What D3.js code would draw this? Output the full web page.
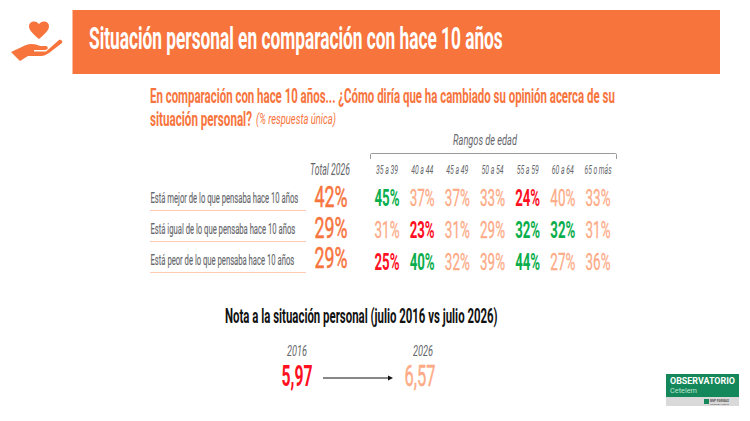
<!DOCTYPE html>
<html>
<head>
<meta charset="utf-8">
<script src="https://cdn.jsdelivr.net/npm/d3@7"></script>
<style>
  html, body { margin: 0; background: #fff; }
  svg { display: block; }
  text { font-family: "Liberation Sans Narrow", Roboto, sans-serif; paint-order: stroke; }
</style>
</head>
<body>
<svg width="750" height="421"></svg>
<script>
const ORANGE = '#f7743d';
const SOFT = '#fdaa85';
const RED = '#ff0f1f';
const GREEN = '#0bae4c';
const GREY = '#66676b';

const ageGroups = ['35 a 39', '40 a 44', '45 a 49', '50 a 54', '55 a 59', '60 a 64', '65 o más'];
const rowLabels = [
  'Está mejor de lo que pensaba hace 10 años',
  'Está igual de lo que pensaba hace 10 años',
  'Está peor de lo que pensaba hace 10 años'
];
const totals = [42, 29, 29];
const ageValues = [
  [45, 37, 37, 33, 24, 40, 33],
  [31, 23, 31, 29, 32, 32, 31],
  [25, 40, 32, 39, 44, 27, 36]
];
// +1 green, -1 red, 0 no difference
const ageFlags = [
  [1, 0, 0, 0, -1, 0, 0],
  [0, -1, 0, 0, 1, 1, 0],
  [-1, 1, 0, 0, 1, 0, 0]
];
const noteYears = ['2016', '2026'];
const noteValues = ['5,97', '6,57'];
const noteColors = [RED, SOFT];

const svg = d3.select('svg');

// draw a text and squeeze it to a given width, there is no condensed font here
function label(x, y, str, size, color, width, opts = {}) {
  const t = svg.append('text')
    .attr('font-size', size)
    .attr('fill', color)
    .attr('font-weight', opts.weight || 400)
    .attr('font-style', opts.italic ? 'italic' : 'normal')
    .attr('text-anchor', opts.anchor || 'start')
    .text(str);
  if (opts.stroke) t.attr('stroke', color).attr('stroke-width', opts.stroke);
  const k = width / t.node().getComputedTextLength();
  t.attr('transform', `translate(${x},${y}) scale(${k},1)`);
  return t;
}

// header
svg.append('rect').attr('x', 72.5).attr('y', 10).attr('width', 647.5).attr('height', 64).attr('fill', ORANGE);
label(89, 49, 'Situación personal en comparación con hace 10 años', 32, '#fff', 414, { weight: 700 });

// heart in hand icon
const icon = svg.append('g').attr('fill', ORANGE);
icon.append('path').attr('d', 'M39 39 C32 33 29 30 29 26 C29 22 35 19 39 24 C43 19 49 22 49 26 C49 30 46 33 39 39 Z');
icon.append('path').attr('d', 'M11 52 L26 45 C31 43 36 44 40 46 L46 46 C49 47 48 50 45 50 L34 50 L34 51.5 L46 51.5 L59 40 C61 39 63 41 62 43 L49 53 C46 55 44 56 41 56 L28 56 L20 61 Z');

// question
label(150, 103, 'En comparación con hace 10 años... ¿Cómo diría que ha cambiado su opinión acerca de su', 21, ORANGE, 465, { weight: 700 });
label(150, 126, 'situación personal?', 21, ORANGE, 102, { weight: 700 });
label(256, 124, '(% respuesta única)', 14, ORANGE, 80, { italic: true });

// table
const x = d3.scalePoint().domain(d3.range(ageGroups.length)).range([387, 598]);
const rows = d3.range(rowLabels.length);
const yLabel = d3.scalePoint().domain(rows).range([203, 265]);
const yTotal = d3.scalePoint().domain(rows).range([207, 268]);
const yValue = d3.scalePoint().domain(rows).range([206, 270]);
const color = d3.scaleOrdinal().domain([-1, 0, 1]).range([RED, SOFT, GREEN]);

label(485, 145, 'Rangos de edad', 15, GREY, 64, { italic: true, anchor: 'middle' });
svg.append('path')
  .attr('d', 'M370.5 159V154.5Q370.5 153.5 371.5 153.5H615.5Q616.5 153.5 616.5 154.5V159')
  .attr('fill', 'none').attr('stroke', '#9a9a9a').attr('stroke-width', 1);
label(330, 174.5, 'Total 2026', 16, GREY, 40, { italic: true, anchor: 'middle' });

ageGroups.forEach((g, i) => {
  label(x(i), 174, g, 13, GREY, i === 6 ? 27 : 22, { italic: true, anchor: 'middle' });
});

rowLabels.forEach((r, i) => {
  label(150.5, yLabel(i), r, 14, GREY, [148, 145, 144][i], { stroke: 0.15 });
  svg.append('line').attr('x1', 150).attr('x2', 306)
    .attr('y1', yLabel(i) + 7.5).attr('y2', yLabel(i) + 7.5)
    .attr('stroke', '#ffcbb3').attr('stroke-width', 1);
  label(331, yTotal(i), totals[i] + '%', 29, ORANGE, 33, { anchor: 'middle', stroke: 0.5 });
  ageValues[i].forEach((v, j) => {
    const flag = ageFlags[i][j];
    label(x(j), yValue(i), v + '%', 24, color(flag), 25,
      { anchor: 'middle', weight: flag ? 700 : 400, stroke: flag ? 0 : 0.3 });
  });
});

// note
label(225, 323, 'Nota a la situación personal (julio 2016 vs julio 2026)', 20, '#111', 273, { weight: 700 });

const noteX = d3.scalePoint().domain(noteYears).range([297, 420]);
noteYears.forEach((yr, i) => {
  label(noteX(yr) + i * 3, 355.5, yr, 14, GREY, 20, { italic: true, anchor: 'middle' });
  label(noteX(yr), 385.5, noteValues[i], 30, noteColors[i], 31,
    { anchor: 'middle', weight: i ? 400 : 700, stroke: i ? 0.5 : 0 });
});

svg.append('line').attr('x1', 323).attr('x2', 389).attr('y1', 378).attr('y2', 378)
  .attr('stroke', '#111').attr('stroke-width', 1);
svg.append('path').attr('d', 'M393 378L388 375.5V380.5Z').attr('fill', '#111');

// logo
svg.append('rect').attr('x', 666).attr('y', 374).attr('width', 73).attr('height', 23).attr('fill', '#14885a');
svg.append('rect').attr('x', 666).attr('y', 397).attr('width', 73).attr('height', 9).attr('fill', '#d9d9d9');
label(670, 384, 'OBSERVATORIO', 8.5, '#fff', 65, { weight: 700 });
label(670, 393, 'Cetelem', 8, '#bfe5d3', 27);
svg.append('rect').attr('x', 704).attr('y', 399).attr('width', 5).attr('height', 5).attr('fill', '#14885a');
label(710, 401.5, 'BNP PARIBAS', 3.5, '#555', 19, { weight: 700 });
label(710, 404.5, 'PERSONAL FINANCE', 2.5, '#555', 19);
</script>
</body>
</html>
